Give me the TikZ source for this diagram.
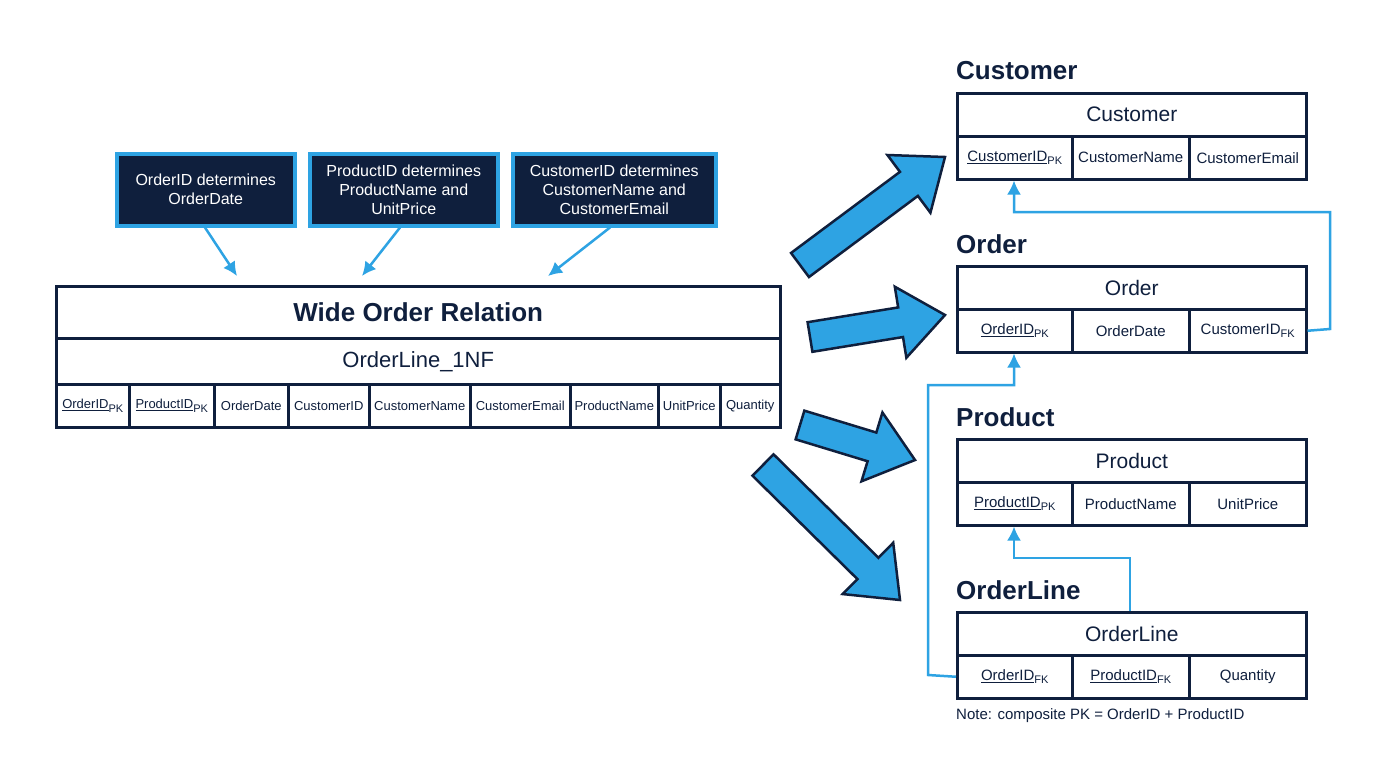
\documentclass[tikz,border=0pt]{standalone}
\usepackage{fontspec}
\setmainfont{Liberation Sans}
\usetikzlibrary{calc,arrows.meta}
\definecolor{navy}{HTML}{0F1F3D}
\definecolor{sky}{HTML}{2EA3E3}
\newcommand\ksub[1]{\raisebox{-0.45ex}{\fontsize{11}{11}\selectfont #1}}
\newcommand\bigarr[2]{%
  \coordinate (ba) at #1; \coordinate (bb) at #2;
  \coordinate (bh) at ($(bb)!45pt!(ba)$);
  \draw[bigar] ($(ba)!15pt!90:(bb)$) -- ($(bh)!15pt!90:(bb)$) -- ($(bh)!36pt!90:(bb)$) -- (bb)
    -- ($(bh)!36pt!-90:(bb)$) -- ($(bh)!15pt!-90:(bb)$) -- ($(ba)!15pt!-90:(bb)$) -- cycle;}
\begin{document}
\begin{tikzpicture}[x=1pt,y=-1pt,
  cell/.style={draw=navy,line width=2.5pt,inner sep=0pt,text=navy,anchor=north west},
  fd/.style={draw=sky,fill=navy,line width=3.5pt,text=white,align=center,font=\fontsize{16}{19}\selectfont,inner sep=0pt,anchor=north west},
  fdar/.style={draw=sky,line width=2.5pt,-{Latex[length=14pt,width=14pt]}},
  fk/.style={draw=sky,line width=2.5pt,-{Latex[length=14pt,width=14pt]}},
  ttl/.style={font=\bfseries\fontsize{26}{26}\selectfont,text=navy,anchor=base west,inner sep=0pt},
  bigar/.style={fill=sky,draw=navy,line width=2.5pt,line join=miter}]
\useasboundingbox (0,0) rectangle (1376,768);
\fill[white] (0,0) rectangle (1376,768);
% FD boxes
\node[fd,minimum width=178pt,minimum height=72pt] (fd1) at (115,152) {OrderID determines\\OrderDate};
\node[fd,minimum width=188pt,minimum height=72pt] (fd2) at (308,152) {ProductID determines\\ProductName and\\UnitPrice};
\node[fd,minimum width=203pt,minimum height=72pt] (fd3) at (511,152) {CustomerID determines\\CustomerName and\\CustomerEmail};
% wide relation
\node[cell,minimum width=724pt,minimum height=52pt,font=\bfseries\fontsize{26}{26}\selectfont] (wt) at (55,285) {Wide Order Relation};
\node[cell,minimum width=724pt,minimum height=46pt,font=\fontsize{22}{22}\selectfont] (wn) at (55,337) {OrderLine\_1NF};
\foreach \a/\b/\t [count=\i] in {55/128/\underline{OrderID}\ksub{PK},128/213/\underline{ProductID}\ksub{PK},213/287/OrderDate,287/368/CustomerID,368/469/CustomerName,469/569/CustomerEmail,569/657/ProductName,657/719/UnitPrice,719/779/Quantity}
  \node[cell,minimum width={\b-\a},minimum height=43pt,font=\fontsize{13}{13}\selectfont] (w\i) at (\a,383) {\t};
\coordinate (t1) at (237,276); \coordinate (t2) at (362,276); \coordinate (t3) at (548,276);
\draw[fdar] (fd1.south -| 205,0) -- (t1);
\draw[fdar] (fd2.south -| 400,0) -- (t2);
\draw[fdar] (fd3.south -| 610,0) -- (t3);
% right tables
\foreach \nm/\ty/\ca/\cb/\cc in {
  Customer/92/\underline{CustomerID}\ksub{PK}/CustomerName/CustomerEmail,
  Order/265/\underline{OrderID}\ksub{PK}/OrderDate/CustomerID\ksub{FK},
  Product/438/\underline{ProductID}\ksub{PK}/ProductName/UnitPrice,
  OrderLine/611/\underline{OrderID}\ksub{FK}/\underline{ProductID}\ksub{FK}/Quantity}{
  \node[ttl] (\nm-t) at (956,\ty-12) {\nm};
  \node[cell,minimum width=349pt,minimum height=43pt,font=\fontsize{21}{21}\selectfont] (\nm-h) at (956,\ty) {\nm};
  \node[cell,minimum width=115pt,minimum height=43pt,font=\fontsize{15}{15}\selectfont] (\nm-a) at (956,\ty+43) {\ca};
  \node[cell,minimum width=117pt,minimum height=43pt,font=\fontsize{15}{15}\selectfont] (\nm-b) at (1071,\ty+43) {\cb};
  \node[cell,minimum width=117pt,minimum height=43pt,font=\fontsize{15}{15}\selectfont] (\nm-c) at (1188,\ty+43) {\cc};
}
\node[anchor=base west,inner sep=0pt,text=navy,font=\fontsize{15}{15}\selectfont] (note) at (956,719) {Note: composite PK = OrderID + ProductID};
% FK connectors
\draw[fk] (Order-c.east) -- (1330,329) -- (1330,212) -- (1014,212) -- (Customer-a.south -| 1014,0);
\draw[fk] (OrderLine-a.west) -- (928,675) -- (928,385) -- (1014,385) -- (Order-a.south -| 1014,0);
\draw[fk] (OrderLine-h.north -| 1130,0) -- (1130,558) -- (1014,558) -- (Product-a.south -| 1014,0);
% big arrows
\bigarr{(800,265)}{(945,157)}
\bigarr{(810,337)}{(945,315)}
\bigarr{(800,425)}{(915,460)}
\bigarr{(763,465)}{(900,600)}
\end{tikzpicture}
\end{document}
